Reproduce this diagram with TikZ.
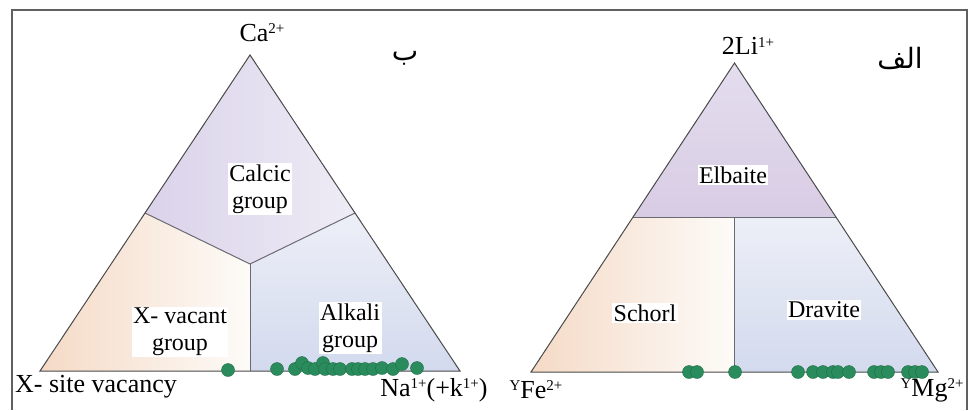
\documentclass[tikz,border=0pt]{standalone}
\usepackage{fontspec}
\newfontfamily\timesfont{LiberationSerif}[Extension=.ttf, UprightFont=*-Regular, BoldFont=*-Bold]
\setmainfont{LiberationSerif}[Extension=.ttf, UprightFont=*-Regular, BoldFont=*-Bold]
\newfontfamily\arabicfont[Script=Arabic]{DejaVu Sans}
\TeXXeTstate=1
\definecolor{framegray}{HTML}{606060}
\definecolor{edgegray}{HTML}{4A4A4A}
\definecolor{divgray}{HTML}{6A6A72}
\definecolor{dotgreen}{HTML}{2A8C5C}
\definecolor{dotedge}{HTML}{1E6B45}
\definecolor{lavA}{HTML}{DAD2EA}
\definecolor{lavB}{HTML}{EEECF5}
\definecolor{peachA}{HTML}{F5DAC6}
\definecolor{peachB}{HTML}{FDFBF8}
\definecolor{blueA}{HTML}{EDEFF7}
\definecolor{blueB}{HTML}{D3DAEE}
\definecolor{elbA}{HTML}{E4DDEE}
\definecolor{elbB}{HTML}{D8CCE4}
\newcommand{\supx}[1]{\raisebox{0.3em}{\fontsize{15}{15}\selectfont #1}}
\begin{document}
\begin{tikzpicture}[x=1pt,y=-1pt,
  vlabel/.style={font=\timesfont\fontsize{26}{28}\selectfont, inner sep=0pt},
  rlabel/.style={font=\timesfont\fontsize{24}{27}\selectfont, fill=white, inner sep=1.5pt, align=center},
  arlabel/.style={font=\arabicfont\fontsize{28}{30}\selectfont, inner sep=0pt},
  edge/.style={draw=edgegray, line width=1pt},
  divide/.style={draw=divgray, line width=1pt},
  dot/.style={circle, fill=dotgreen, draw=dotedge, line width=0.4pt, minimum size=13pt, inner sep=0pt}]
\useasboundingbox (0,0) rectangle (976,410);
% frame
\draw[framegray, line width=1.5pt] (12,410) -- (12,10) -- (967,10) -- (967,410);

% ---------- left triangle ----------
\coordinate (LA) at (250,55);
\coordinate (LB) at (40,371);
\coordinate (LC) at (460,371);
\coordinate (LL) at (145,213);
\coordinate (LR) at (355,213);
\coordinate (LO) at (250,264);
\coordinate (LM) at (250,371);
\shade[left color=lavA, right color=lavB] (LA) -- (LR) -- (LO) -- (LL) -- cycle;
\shade[left color=peachA, right color=peachB] (LL) -- (LO) -- (LM) -- (LB) -- cycle;
\shade[top color=blueA, bottom color=blueB] (LO) -- (LR) -- (LC) -- (LM) -- cycle;
\draw[divide] (LL) -- (LO) -- (LR);
\draw[divide] (LO) -- (LM);
\draw[edge] (LA) -- (LB) -- (LC) -- cycle;

\node[rlabel] (calcic) at (260,189) {Calcic\\group};
\node[rlabel] (xvac) at (180,332) {X- vacant\\group};
\node[rlabel] (alkali) at (350,328) {Alkali\\group};

\node[vlabel] (ca) at (262,33) {Ca\supx{2+}};
\node[arlabel] (be) at (405,58) {\beginR ب\endR};
\node[vlabel] (xsite) at (96,387) {X- site vacancy};
\node[vlabel] (na) at (434,390) {Na\supx{1+}(+k\supx{1+})};

\foreach \px/\py [count=\i] in {228/370,277/369,295/369,302/363,308/368,315/369,323/363,325/369,333/369,340/369,352/369,358/369,365/369,373/369,382/368,393/369,402/364,417/368}
  \node[dot] (ld\i) at (\px,\py) {};

% ---------- right triangle ----------
\coordinate (RA) at (734.5,63);
\coordinate (RB) at (531,372);
\coordinate (RC) at (938,372);
\coordinate (RL) at (632.75,217.5);
\coordinate (RR) at (836.25,217.5);
\coordinate (RT) at (734.5,217.5);
\coordinate (RM) at (734.5,372);
\shade[top color=elbA, bottom color=elbB] (RA) -- (RR) -- (RL) -- cycle;
\shade[left color=peachA, right color=peachB] (RL) -- (RT) -- (RM) -- (RB) -- cycle;
\shade[top color=blueA, bottom color=blueB] (RT) -- (RR) -- (RC) -- (RM) -- cycle;
\draw[divide] (RL) -- (RR);
\draw[divide] (RT) -- (RM);
\draw[edge] (RA) -- (RB) -- (RC) -- cycle;

\node[rlabel] (elbaite) at (733,175) {Elbaite};
\node[rlabel] (schorl) at (645,313) {Schorl};
\node[rlabel] (dravite) at (824,310) {Dravite};

\node[vlabel] (li) at (748,46) {2Li\supx{1+}};
\node[arlabel] (alef) at (900,58) {\beginR الف\endR};
\node[vlabel] (fe) at (536,390) {\supx{Y}Fe\supx{2+}};
\node[vlabel] (mg) at (932,390) {\supx{Y}Mg\supx{2+}};

\foreach \px [count=\i] in {689,697,735,798,813,823,833,838,849,874,881,888,908,915,922}
  \node[dot] (rd\i) at (\px,372) {};
\end{tikzpicture}
\end{document}
